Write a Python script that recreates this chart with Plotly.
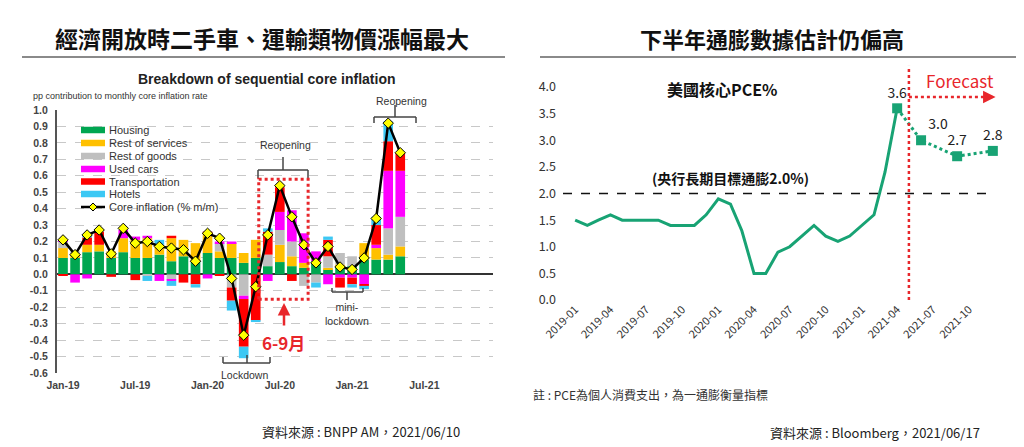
import numpy as np
import pandas as pd
import plotly.graph_objects as go

# ---------------- data: left panel (pp contribution to monthly core inflation) -------------
months = ["Jan-19", "Feb-19", "Mar-19", "Apr-19", "May-19", "Jun-19", "Jul-19", "Aug-19",
          "Sep-19", "Oct-19", "Nov-19", "Dec-19", "Jan-20", "Feb-20", "Mar-20", "Apr-20",
          "May-20", "Jun-20", "Jul-20", "Aug-20", "Sep-20", "Oct-20", "Nov-20", "Dec-20",
          "Jan-21", "Feb-21", "Mar-21", "Apr-21", "May-21"]
housing = [0.10, 0.10, 0.135, 0.14, 0.10, 0.135, 0.10, 0.10, 0.12, 0.08, 0.11, 0.08, 0.13, 0.10,
           0.10, 0.07, 0.10, 0.05, 0.075, 0.05, 0.04, 0.08, 0.03, 0.05, 0.05, 0.09, 0.09, 0.09, 0.11]
rest_services = [0.06, 0.03, 0.045, 0.04, 0.04, 0.085, 0.11, 0.12, 0.06, 0.14, 0.10, 0.11, 0.12, 0.04,
                 0.09, 0.06, 0.11, 0.0, 0.105, 0.06, 0.03, 0.0, 0.01, 0.01, 0.0, 0.10, 0.07, 0.03, 0.06]
rest_goods = [0.04, 0.01, 0.0, 0.0, 0.0, 0.0, 0.0, -0.01, 0.0, -0.03, 0.0, 0.0, 0.0, 0.05,
              -0.08, -0.13, 0.0, 0.07, 0.09, 0.09, -0.07, -0.05, 0.07, 0.07, 0.06, 0.0, 0.0, 0.16, 0.18]
used_cars = [0.01, -0.05, -0.025, 0.0, 0.0, 0.05, 0.02, 0.015, -0.04, -0.01, 0.0, 0.0, -0.025, 0.01,
             0.01, -0.02, 0.0, -0.04, 0.11, 0.19, 0.18, 0.06, -0.06, -0.02, -0.02, -0.06, 0.02, 0.35, 0.28]
transportation = [-0.01, 0.0, 0.045, 0.08, -0.015, 0.0, -0.035, 0.0, 0.0, 0.015, -0.05, -0.06, 0.01, -0.01,
                  -0.08, -0.29, -0.28, 0.14, 0.15, -0.04, 0.0, 0.0, 0.10, -0.06, -0.04, -0.01, 0.12, 0.18, 0.11]
hotels = [0.0, 0.0, 0.02, 0.0, 0.0, 0.0, 0.0, -0.03, 0.03, -0.03, 0.0, -0.02, 0.0, 0.0,
          -0.06, -0.07, -0.01, 0.02, 0.0, 0.0, 0.0, -0.03, 0.02, 0.0, -0.02, -0.02, 0.05, 0.12, 0.0]
core_inflation = [0.21, 0.12, 0.24, 0.27, 0.125, 0.28, 0.19, 0.20, 0.17, 0.16, 0.15, 0.08, 0.25, 0.22,
                  -0.025, -0.37, -0.075, 0.24, 0.54, 0.35, 0.18, 0.07, 0.17, 0.045, 0.03, 0.10, 0.34, 0.92, 0.74]
left_tick_labels = ["Jan-19", "Jul-19", "Jan-20", "Jul-20", "Jan-21", "Jul-21"]
left_y_ticks = [k / 10 for k in range(-6, 11)]

# ---------------- data: right panel (US core PCE %) -------------
pce_dates = pd.date_range("2019-01-01", "2021-04-01", freq="MS")
pce_values = [1.5, 1.4, 1.5, 1.6, 1.5, 1.5, 1.5, 1.5, 1.4, 1.4, 1.4, 1.6,
              1.9, 1.8, 1.3, 0.5, 0.5, 0.9, 1.0, 1.2, 1.4, 1.2, 1.1, 1.2,
              1.4, 1.6, 2.4, 3.6]
fc_dates = ["2021-04-01", "2021-06-01", "2021-09-01", "2021-12-01"]
fc_values = [3.6, 3.0, 2.7, 2.8]
fc_labels = ["3.6", "3.0", "2.7", "2.8"]
right_tick_dates = pd.date_range("2019-01-01", "2021-10-01", freq="3MS")
right_y_ticks = [k / 2 for k in range(0, 9)]
target_rate = 2.0
forecast_start = "2021-05-01"

# ---------------- styling -------------
OFF = 8                      # page body margin offset
W, H = 1024 - OFF, 447 - OFF
CJK = "Noto Sans CJK TC"
ARIAL = "Liberation Sans, Arial"
GREEN_LINE = "#18A374"
RED = "#E8262B"

def px(x):
    return (x - OFF) / W

def py(y):
    return 1 - (y - OFF) / H

idx = np.arange(len(months))
fig = go.Figure()

components = [("Housing", housing, "#00A651"),
              ("Rest of services", rest_services, "#FFC000"),
              ("Rest of goods", rest_goods, "#BFBFBF"),
              ("Used cars", used_cars, "#FF00FF"),
              ("Transportation", transportation, "#FF0000"),
              ("Hotels", hotels, "#3CC8F4")]
for name, vals, color in components:
    fig.add_trace(go.Bar(x=idx, y=vals, name=name, marker=dict(color=color, line=dict(width=0)),
                         showlegend=False, xaxis="x", yaxis="y"))
fig.add_trace(go.Scatter(x=idx, y=core_inflation, mode="lines+markers", name="Core inflation (% m/m)",
                         line=dict(color="black", width=2.5),
                         marker=dict(symbol="diamond", size=8, color="#FFFF00", line=dict(color="black", width=1)),
                         showlegend=False, xaxis="x", yaxis="y"))

fig.add_trace(go.Scatter(x=pce_dates, y=pce_values, mode="lines", line=dict(color=GREEN_LINE, width=3),
                         showlegend=False, xaxis="x2", yaxis="y2"))
fig.add_trace(go.Scatter(x=fc_dates, y=fc_values, mode="lines+markers+text",
                         line=dict(color=GREEN_LINE, width=3, dash="dot"),
                         marker=dict(symbol="square", size=10, color=GREEN_LINE),
                         text=fc_labels, textposition=["top center", "top right", "top center", "top center"],
                         textfont=dict(family=CJK, size=14, color="#222"),
                         showlegend=False, xaxis="x2", yaxis="y2", cliponaxis=False))

shapes = []
annotations = []

def seg(x0, y0, x1, y1, color="#555", width=1.5, dash="solid"):
    shapes.append(dict(type="line", xref="paper", yref="paper", x0=px(x0), y0=py(y0), x1=px(x1), y1=py(y1),
                       line=dict(color=color, width=width, dash=dash)))

def text(x, y, s, size, color="#222", family=CJK, bold=False, xanchor="center"):
    annotations.append(dict(xref="paper", yref="paper", x=px(x), y=py(y), text=s, showarrow=False,
                            xanchor=xanchor, yanchor="middle",
                            font=dict(family=family, size=size, color=color, weight="bold" if bold else "normal")))

# headers
text(262, 38, "經濟開放時二手車、運輸類物價漲幅最大", 23, "#111", bold=True)
text(772, 38, "下半年通膨數據估計仍偏高", 22, "#111", bold=True)
seg(22, 57, 505, 57, "#8a8a8a", 2)
seg(540, 57, 1022, 57, "#8a8a8a", 2)

# left chart titles
text(266, 79, "Breakdown of sequential core inflation", 14, "#222", ARIAL, bold=True)
text(31, 96, "pp contribution to monthly core inflation rate", 9, "#333", ARIAL, xanchor="left")

# legend (manual)
leg_rows = [130, 143, 156, 169, 181.5, 194, 207]
for (name, _, color), yy in zip(components, leg_rows):
    seg(81, yy, 105, yy, color, 6.5)
    text(107, yy, name, 11, "#333", ARIAL, xanchor="left")
yy = leg_rows[-1]
seg(81, yy, 105, yy, "black", 2.5)
shapes.append(dict(type="path", xref="paper", yref="paper",
                   path=f"M {px(93)},{py(yy-4)} L {px(97)},{py(yy)} L {px(93)},{py(yy+4)} L {px(89)},{py(yy)} Z",
                   fillcolor="#FFFF00", line=dict(color="black", width=1)))
text(107, yy, "Core inflation (% m/m)", 11, "#333", ARIAL, xanchor="left")

# brackets & notes left
BR = "#444"
seg(258, 170, 308, 170, BR); seg(258, 170, 258, 178, BR); seg(308, 170, 308, 178, BR); seg(283, 170, 283, 157, BR)
text(285, 145, "Reopening", 10.5, "#333", ARIAL)
seg(374, 117, 416, 117, BR); seg(374, 117, 374, 123, BR); seg(416, 117, 416, 123, BR); seg(395, 117, 395, 105, BR)
text(401, 101, "Reopening", 10.5, "#333", ARIAL)
seg(223, 363, 270, 363, BR); seg(223, 363, 223, 357, BR); seg(270, 363, 270, 357, BR); seg(247, 363, 247, 355, BR)
text(244, 375, "Lockdown", 10.5, "#333", ARIAL)
seg(332, 292, 363, 292, BR); seg(332, 292, 332, 288, BR); seg(363, 292, 363, 288, BR); seg(347, 292, 347, 300, BR)
text(347, 314, "mini-<br>lockdown", 10.5, "#333", ARIAL)

# red dotted box (data coords)
shapes.append(dict(type="rect", xref="x", yref="y", x0=16.25, x1=20.35, y0=-0.152, y1=0.579,
                   line=dict(color=RED, width=3, dash="dot")))
annotations.append(dict(xref="paper", yref="paper", x=px(284), y=py(303), ax=0, ay=24, text="",
                        showarrow=True, arrowhead=2, arrowsize=1, arrowwidth=2.5, arrowcolor=RED))
text(283, 342, "6-9月", 17, RED, bold=True)

# right panel shapes
shapes.append(dict(type="line", xref="x2 domain", yref="y2", x0=0, x1=0.962, y0=target_rate, y1=target_rate,
                   line=dict(color="#111", width=1.5, dash="dash")))
shapes.append(dict(type="line", xref="x2", yref="y2", x0=forecast_start, x1=forecast_start, y0=0, y1=4.4,
                   line=dict(color=RED, width=2.5, dash="dot")))
shapes.append(dict(type="line", xref="x2", yref="y2", x0=forecast_start, x1="2021-12-01", y0=3.81, y1=3.81,
                   line=dict(color=RED, width=2.5, dash="dot")))
annotations.append(dict(xref="x2", yref="y2", x="2021-12-08", y=3.81, ax=-9, ay=0, text="",
                        showarrow=True, arrowhead=2, arrowsize=1, arrowwidth=2.5, arrowcolor=RED))
text(960, 80, "Forecast", 17, RED)
text(722, 89, "美國核心PCE%", 16, "#111", bold=True)
text(730, 178, "(央行長期目標通膨2.0%)", 14, "#111", bold=True)

# footers
text(531, 394, "註 : PCE為個人消費支出，為一通膨衡量指標", 12, "#333", xanchor="left")
text(982, 432, "資料來源 : Bloomberg，2021/06/17", 13, "#222", xanchor="right")
text(462, 431, "資料來源 : BNPP AM，2021/06/10", 13, "#222", xanchor="right")

fig.update_layout(
    width=W, height=H, autosize=False,
    margin=dict(l=0, r=0, t=0, b=0, pad=0, autoexpand=False),
    paper_bgcolor="white", plot_bgcolor="white",
    barmode="relative", bargap=0.2,
    showlegend=False,
    shapes=shapes, annotations=annotations,
    xaxis=dict(domain=[px(57), px(493)], range=[-0.5, 35.7], anchor="y", automargin=False,
               tickvals=[6 * k for k in range(len(left_tick_labels))], ticktext=left_tick_labels,
               showgrid=False, zeroline=False, showline=False, ticks="", ticklabelstandoff=4,
               tickfont=dict(family=ARIAL, size=10.5, color="#444", weight="bold")),
    yaxis=dict(domain=[py(373), py(110)], range=[-0.6, 1.0], anchor="x", automargin=False,
               tickvals=left_y_ticks, ticktext=[f"{v:.1f}" for v in left_y_ticks],
               showgrid=True, gridcolor="#c8c8c8", griddash="dash", gridwidth=1,
               zeroline=True, zerolinecolor="#333", zerolinewidth=1.5,
               showline=True, linecolor="#555", linewidth=2, ticks="", ticklabelstandoff=5,
               tickfont=dict(family=ARIAL, size=10.5, color="#444", weight="bold")),
    xaxis2=dict(domain=[px(563), px(1005)], range=["2018-12-01", "2022-01-01"], type="date", anchor="y2",
                automargin=False,
                tickvals=right_tick_dates, tickformat="%Y-%m", tickangle=-45,
                showgrid=False, zeroline=False, showline=False, ticks="",
                tickfont=dict(family=CJK, size=11, color="#333")),
    yaxis2=dict(domain=[py(300), py(65.7)], range=[0, 4.4], anchor="x2", automargin=False,
                tickvals=right_y_ticks, ticktext=[f"{v:.1f}" for v in right_y_ticks],
                showgrid=False, zeroline=False, showline=False, ticks="", ticklabelstandoff=6,
                tickfont=dict(family=CJK, size=12.5, color="#333")),
)

fig.write_html("out.html")
